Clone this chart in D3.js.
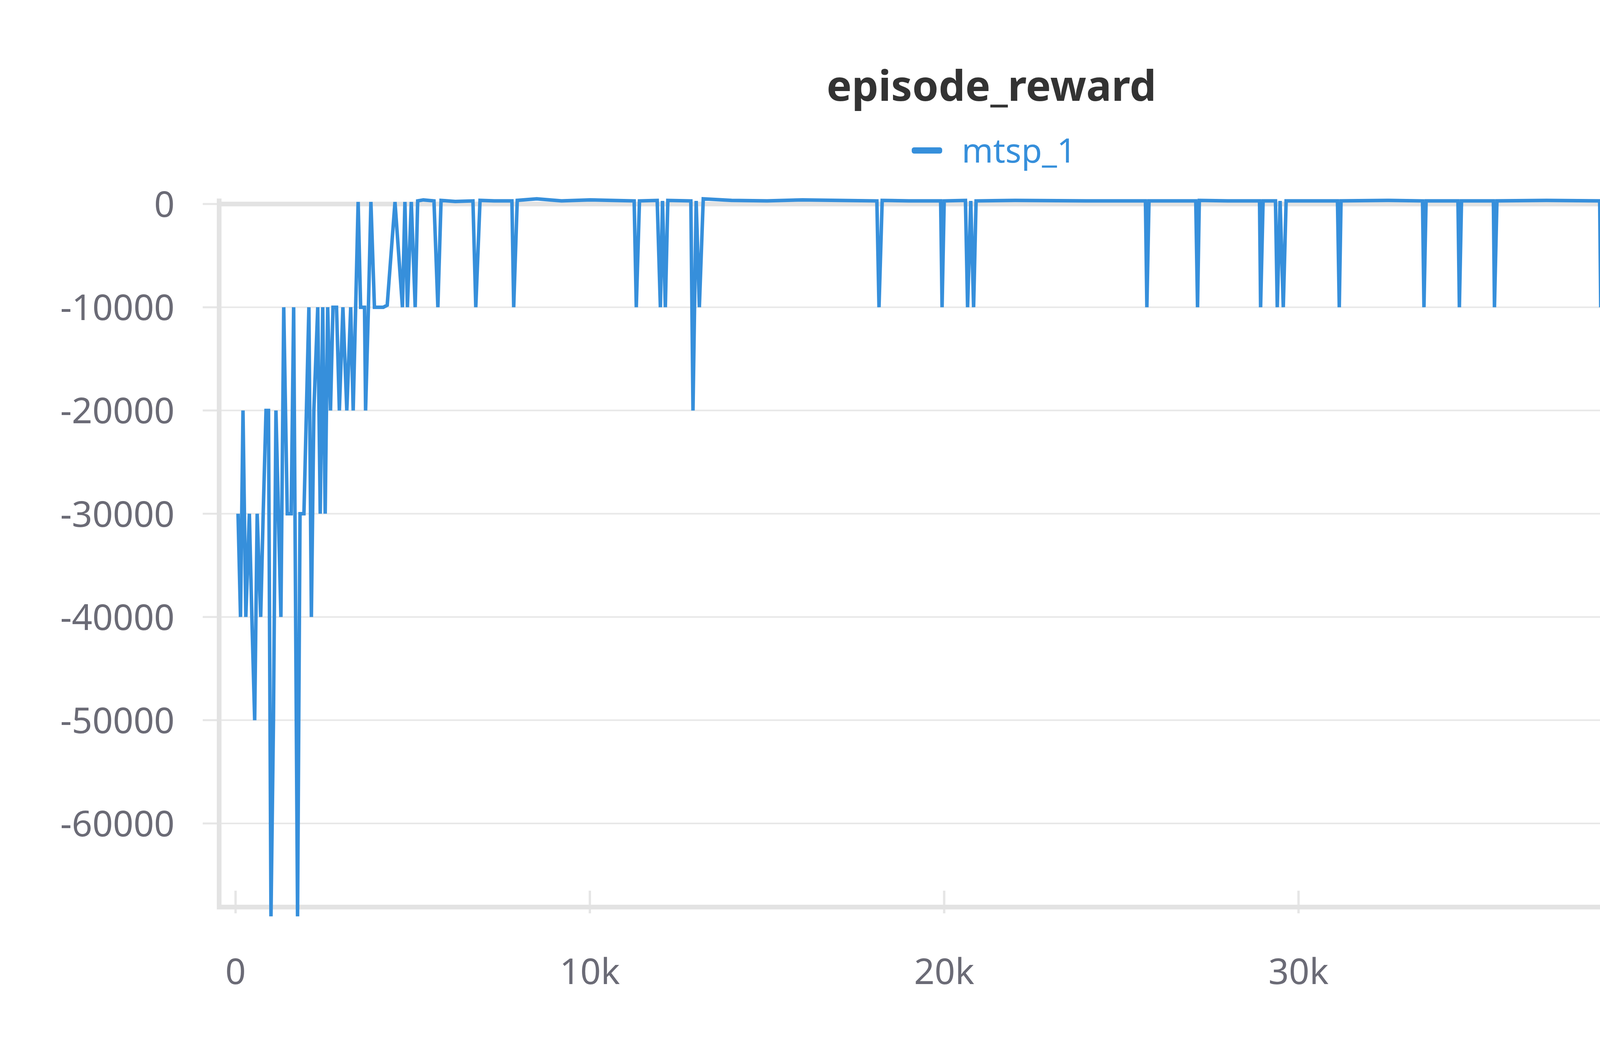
<!DOCTYPE html>
<html><head><meta charset="utf-8">
<script src="https://cdn.jsdelivr.net/npm/d3@7"></script>
<style>body{margin:0;background:#fff;} text{font-family:"Noto Sans",sans-serif;}</style>
</head><body>
<svg id="chart" width="5056" height="2656"></svg>
<script>
// Data (step in thousands, reward)
const earlySteps = [0.07,0.14,0.21,0.29,0.39,0.46,0.54,0.61,0.71,0.78,0.86,0.93,1.0,1.07,1.14,1.21,1.28,1.36,1.46,1.57,1.64,1.75,1.82,1.93,2.0,2.07,2.14,2.21,2.32,2.39,2.46,2.53,2.60,2.68,2.75,2.85,2.93,3.03,3.14,3.25,3.32,3.39,3.46,3.53,3.64,3.67,3.75,3.82,3.92,4.17,4.28,4.5,4.71,4.78,4.85,4.96,5.07,5.14];
const earlyValues = [-30000,-40000,-20000,-40000,-30000,-40000,-50000,-30000,-40000,-30000,-20000,-20000,-69000,-50000,-20000,-30000,-40000,-10000,-30000,-30000,-10000,-69000,-30000,-30000,-20000,-10000,-40000,-20000,-10000,-30000,-10000,-30000,-10000,-20000,-10000,-10000,-20000,-10000,-20000,-10000,-20000,-10000,200,-10000,-10000,-20000,-10000,200,-10000,-10000,-9800,200,-10000,200,-10000,200,-10000,300];
const spikeSteps = [5.71,6.78,7.85,11.31,11.99,12.13,12.91,13.09,18.16,19.94,20.66,20.83,25.72,27.15,28.93,29.40,29.57,31.15,33.54,34.54,35.53,38.53,38.67,38.89,39.10,39.46,40.35,41.38,42.17,43.38];
const spikeValues = [-10000,-10000,-10000,-10000,-10000,-10000,-20000,-10000,-10000,-10000,-10000,-10000,-10000,-10000,-10000,-10000,-10000,-10000,-10000,-10000,-10000,-10000,-10000,-10000,-10000,-10000,-10000,-10000,-10000,-10000];
const baseSteps = [5.3,5.6,5.8,6.2,6.7,6.9,7.3,7.8,7.95,8.5,9.2,10.0,10.6,11.25,11.4,11.9,12.05,12.2,12.85,13.0,13.2,14.0,15.0,16.0,17.0,18.1,18.25,19.0,19.9,20.0,20.6,20.75,20.9,22.0,24.0,25.68,25.78,27.1,27.2,28.0,28.9,29.0,29.35,29.48,29.65,31.1,31.2,32.5,33.5,33.6,34.5,34.6,35.5,35.6,37.0,38.5,38.6,38.75,38.83,38.95,39.05,39.15,39.4,39.55,40.3,40.4,41.35,41.45,42.1,42.2,43.35,43.45,45.0,46.7];
const baseValues = [400,300,350,250,300,350,300,300,350,500,300,400,350,300,300,350,300,350,300,300,500,350,300,400,350,300,350,300,300,300,350,300,300,350,300,300,300,300,350,300,300,300,300,300,300,300,300,350,300,300,300,300,300,300,350,300,300,300,300,300,300,300,300,300,300,300,300,300,300,300,300,300,350,350];
const yTicks = [0,-10000,-20000,-30000,-40000,-50000,-60000];
const xTicks = [0,10,20,30,40];
const xTickLabels = ['0','10k','20k','30k','40k'];

const points = [];
earlySteps.forEach((s,i)=>points.push([s,earlyValues[i]]));
spikeSteps.forEach((s,i)=>points.push([s,spikeValues[i]]));
baseSteps.forEach((s,i)=>points.push([s,baseValues[i]]));
points.sort((a,b)=>a[0]-b[0]);

const svg = d3.select('#chart');
const plotLeft = 561, plotRight = 4839, plotTop = 522, plotBottom = 2321;
const x = d3.scaleLinear().domain([0,46.7]).range([603,4839]);
const y = d3.scaleLinear().domain([-68100,0]).range([plotBottom,plotTop]);
const grey = '#6b6b76';

// grid
svg.append('g').selectAll('line').data(yTicks.slice(1)).join('line')
  .attr('x1',plotLeft).attr('x2',plotRight).attr('y1',d=>y(d)).attr('y2',d=>y(d))
  .attr('stroke','#e8e8e8').attr('stroke-width',4);
// y tick marks
svg.append('g').selectAll('line').data(yTicks).join('line')
  .attr('x1',plotLeft-42).attr('x2',plotLeft).attr('y1',d=>y(d)).attr('y2',d=>y(d))
  .attr('stroke','#e6e6e6').attr('stroke-width',5);
// x tick marks
svg.append('g').selectAll('line').data(xTicks).join('line')
  .attr('x1',d=>x(d)).attr('x2',d=>x(d)).attr('y1',plotBottom-42).attr('y2',plotBottom+16)
  .attr('stroke','#e6e6e6').attr('stroke-width',6);
// axes frame
svg.append('line').attr('x1',plotLeft).attr('x2',plotRight).attr('y1',plotTop).attr('y2',plotTop)
  .attr('stroke','#e3e3e3').attr('stroke-width',12);
svg.append('line').attr('x1',plotLeft).attr('x2',plotLeft).attr('y1',plotTop-14).attr('y2',plotBottom+6)
  .attr('stroke','#e3e3e3').attr('stroke-width',12);
svg.append('line').attr('x1',plotLeft).attr('x2',plotRight).attr('y1',plotBottom).attr('y2',plotBottom)
  .attr('stroke','#e3e3e3').attr('stroke-width',12);

// tick labels
svg.append('g').selectAll('text').data(yTicks).join('text')
  .attr('x',447).attr('y',d=>y(d)+33).attr('text-anchor','end')
  .attr('font-size',92).attr('fill',grey).text(d=>d);
svg.append('g').selectAll('text').data(xTicks).join('text')
  .attr('x',d=>x(d)).attr('y',2518).attr('text-anchor','middle')
  .attr('font-size',92).attr('fill',grey).text((d,i)=>xTickLabels[i]);
svg.append('text').attr('x',4787).attr('y',2272).attr('text-anchor','end')
  .attr('font-size',92).attr('fill',grey).text('Step');

// line
const line = d3.line().x(d=>x(d[0])).y(d=>y(d[1]));
svg.append('path').datum(points).attr('d',line)
  .attr('fill','none').attr('stroke','#368fdb').attr('stroke-width',9).attr('stroke-linejoin','miter');
// faded tail
const grad = svg.append('defs').append('linearGradient').attr('id','tail');
grad.append('stop').attr('offset','0%').attr('stop-color','#368fdb').attr('stop-opacity',1);
grad.append('stop').attr('offset','100%').attr('stop-color','#368fdb').attr('stop-opacity',0);
svg.append('rect').attr('x',plotRight).attr('y',y(350)-5).attr('width',110).attr('height',10).attr('fill','url(#tail)');

// title + legend
svg.append('text').attr('x',2538).attr('y',258).attr('text-anchor','middle')
  .attr('font-size',108).attr('font-weight','bold').attr('fill','#333').text('episode_reward');
svg.append('rect').attr('x',2334).attr('y',377).attr('width',78).attr('height',16).attr('rx',6).attr('fill','#368fdb');
svg.append('text').attr('x',2462).attr('y',416).attr('font-size',86).attr('fill','#368fdb').text('mtsp_1');
</script>
</body></html>
